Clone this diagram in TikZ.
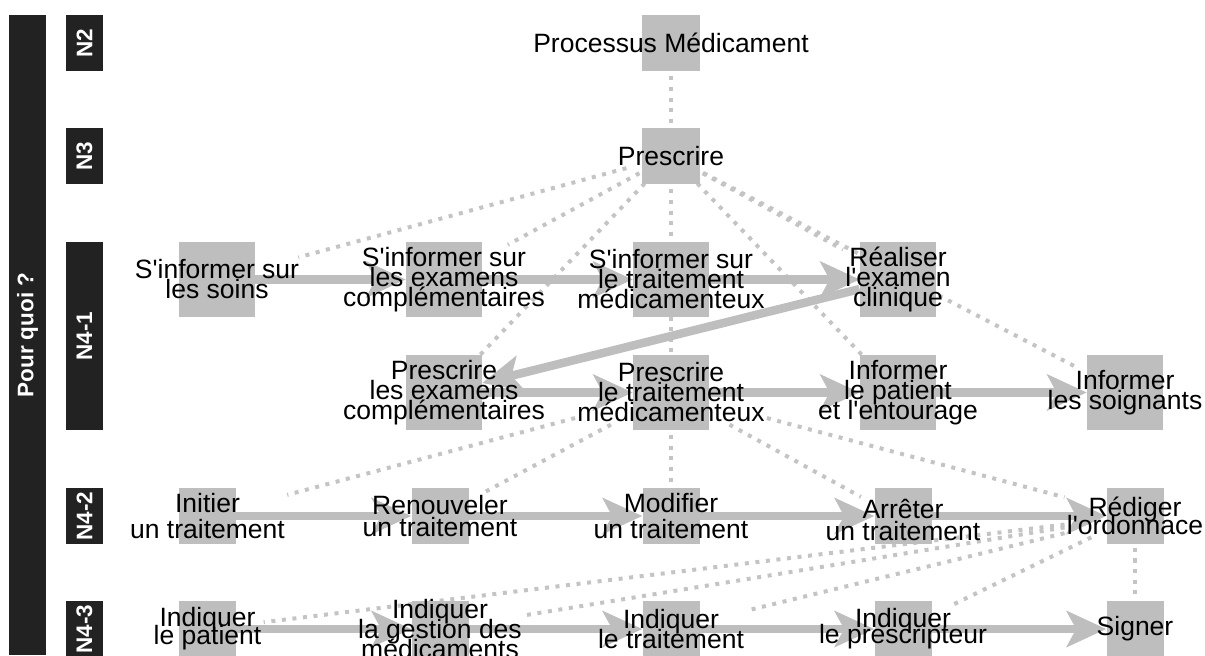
\documentclass[tikz,border=0pt]{standalone}
\usepackage{fontspec}
\setmainfont{Liberation Sans}
\usepackage{xcolor}
\usepackage{tikz}
\usetikzlibrary{arrows.meta,positioning}
\pgfdeclarelayer{bg}
\pgfsetlayers{bg,main}
\definecolor{boxgrey}{HTML}{BEBEBE}
\definecolor{dotgrey}{HTML}{C4C4C4}
\definecolor{barblack}{HTML}{222222}

\begin{document}
\begin{tikzpicture}[x=0.5pt,y=-0.5pt,
  sq/.style={fill=boxgrey,inner sep=0pt,minimum width=28.5pt,minimum height=28pt},
  bigsq/.style={sq,minimum width=38pt,minimum height=37.5pt},
  txt/.style={align=center,inner sep=1pt,
              font={\fontsize{13.25}{10}\selectfont\lineskiplimit=-\maxdimen}},
  lvl/.style={fill=barblack,text=white,rotate=90,inner sep=0pt,
              font=\bfseries\fontsize{11.25}{13}\selectfont,
              minimum height=18.5pt,minimum width=28pt},
  arr/.style={draw=boxgrey,line width=4.25pt,
              -{Stealth[length=20pt,width=18.5pt,inset=5pt,line width=0.5pt]}},
  hier/.style={draw=dotgrey,line width=2pt,dash pattern=on 2pt off 3.3pt}]
\useasboundingbox (0,0) rectangle (1205,655);
% level bars
\node[lvl,minimum width=320pt] (why) at (27.5,335) {Pour quoi ?};
\node[lvl] (n2) at (84.5,43) {N2};
\node[lvl] (n3) at (84.5,156) {N3};
\node[lvl,minimum width=94pt] (n41) at (84.5,336) {N4-1};
\node[lvl] (n42) at (84.5,516) {N4-2};
\node[lvl] (n43) at (84.5,629) {N4-3};
% squares
\node[sq,minimum width=29pt] (proc) at (671,43) {};
\node[sq,minimum width=29pt] (presc) at (671,156) {};
\node[bigsq] (soins) at (217,279.5) {};
\node[bigsq] (sinfex) at (444,279.5) {};
\node[bigsq] (sinftr) at (671,279.5) {};
\node[bigsq] (real) at (898,279.5) {};
\node[bigsq] (prex) at (444,392.5) {};
\node[bigsq] (prtr) at (671,392.5) {};
\node[bigsq] (infpat) at (898,392.5) {};
\node[bigsq] (infsoi) at (1125,392.5) {};
\node[sq] (init) at (207.5,516) {};
\node[sq] (renouv) at (440,516) {};
\node[sq] (modif) at (671,516) {};
\node[sq] (arret) at (903,516) {};
\node[sq] (redig) at (1135,516) {};
\node[sq] (indpat) at (207.5,629) {};
\node[sq] (indges) at (440,629) {};
\node[sq] (indtr) at (671,629) {};
\node[sq] (indpre) at (903,629) {};
\node[sq] (signer) at (1135,629) {};
% texts
\node[txt] (proc-t) at (proc) {Processus Médicament};
\node[txt] (presc-t) at (presc) {Prescrire};
\node[txt] (soins-t) at (soins) {S\textquotesingle informer sur\\les soins};
\node[txt] (sinfex-t) at (sinfex) {S\textquotesingle informer sur\\les examens\\complémentaires};
\node[txt] (sinftr-t) at (sinftr) {S\textquotesingle informer sur\\le traitement\\médicamenteux};
\node[txt] (real-t) at (real) {Réaliser\\l\textquotesingle examen\\clinique};
\node[txt] (prex-t) at (prex) {Prescrire\\les examens\\complémentaires};
\node[txt] (prtr-t) at (prtr) {Prescrire\\le traitement\\médicamenteux};
\node[txt] (infpat-t) at (infpat) {Informer\\le patient\\et l\textquotesingle entourage};
\node[txt] (infsoi-t) at (infsoi) {Informer\\les soignants};
\node[txt] (init-t) at (init) {Initier\\[3pt]un traitement};
\node[txt] (renouv-t) at (renouv) {Renouveler\\[1pt]un traitement};
\node[txt] (modif-t) at (modif) {Modifier\\[3pt]un traitement};
\node[txt] (arret-t) at ([yshift=-2pt]arret) {Arrêter\\[1pt]un traitement};
\node[txt] (redig-t) at (redig) {Rédiger\\[-1pt]l\textquotesingle ordonnace};
\node[txt] (indpat-t) at (indpat) {Indiquer\\[-1pt]le patient};
\node[txt] (indges-t) at (indges) {Indiquer\\la gestion des\\médicaments};
\node[txt] (indtr-t) at (indtr) {Indiquer\\le traitement};
\node[txt] (indpre-t) at (indpre) {Indiquer\\[-2pt]le prescripteur};
\node[txt] (signer-t) at (signer) {Signer};
\begin{pgfonlayer}{bg}
% dotted hierarchy
\draw[hier] (proc-t) -- (presc-t);
\draw[hier] (presc-t) -- (soins-t);
\draw[hier] (presc-t) -- (sinfex-t);
\draw[hier] (presc-t) -- (sinftr-t);
\draw[hier] (presc-t) -- (real-t);
\draw[hier] (presc-t) -- (prex-t);
\draw[hier] (presc-t) -- (prtr-t);
\draw[hier] (presc-t) -- (infpat-t);
\draw[hier] (presc-t) -- (infsoi-t);
\draw[hier] (prtr-t) -- (init-t);
\draw[hier] (prtr-t) -- (renouv-t);
\draw[hier] (prtr-t) -- (modif-t);
\draw[hier] (prtr-t) -- (arret-t);
\draw[hier] (prtr-t) -- (redig-t);
\draw[hier] (redig-t) -- (indpat-t);
\draw[hier] (redig-t) -- (indges-t);
\draw[hier] (redig-t) -- (indtr-t);
\draw[hier] (redig-t) -- (indpre-t);
\draw[hier] (redig-t) -- (signer-t);
% flow
\draw[arr] (soins) -- (sinfex);
\draw[arr] (sinfex) -- (sinftr);
\draw[arr] (sinftr) -- (real);
\draw[arr] (real) -- (prex);
\draw[arr] (prex) -- (prtr);
\draw[arr] (prtr) -- (infpat);
\draw[arr] (infpat) -- (infsoi);
\draw[arr] (init) -- (renouv);
\draw[arr] (renouv) -- (modif);
\draw[arr] (modif) -- (arret);
\draw[arr] (arret) -- (redig);
\draw[arr] (indpat) -- (indges);
\draw[arr] (indges) -- (indtr);
\draw[arr] (indtr) -- (indpre);
\draw[arr] (indpre) -- (signer);
\end{pgfonlayer}
\end{tikzpicture}
\end{document}
